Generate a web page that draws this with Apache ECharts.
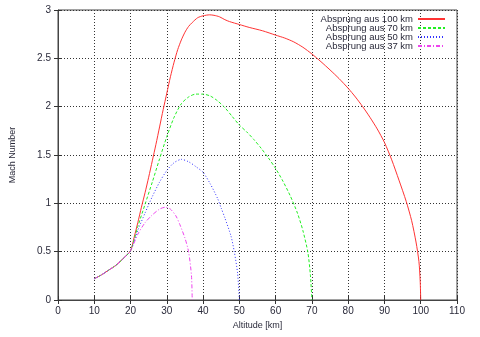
<!DOCTYPE html>
<html>
<head>
<meta charset="utf-8">
<script src="https://cdn.jsdelivr.net/npm/echarts@6/dist/echarts.min.js"></script>
<style>
  html, body { margin: 0; padding: 0; background: #fff; }
  #chart { width: 480px; height: 337px; }
</style>
</head>
<body>
<div id="chart"></div>
<script>
// Mach number over altitude for jumps started from different heights.
const seriesNames = ['Absprung aus 100 km', 'Absprung aus 70 km', 'Absprung aus 50 km', 'Absprung aus 37 km'];

// [altitude km, Mach]
const jump100 = [
  [10, 0.22], [12, 0.26], [14, 0.31], [16, 0.36], [18, 0.43], [20, 0.51],
  [21, 0.65], [22, 0.8], [23, 0.96], [24, 1.11], [25, 1.27], [26, 1.44],
  [27, 1.61], [28, 1.79], [29, 1.97], [30, 2.14], [31, 2.31], [32, 2.46],
  [33, 2.59], [34, 2.69], [35, 2.77], [36, 2.83], [37, 2.87], [38.5, 2.92],
  [40, 2.94], [41.8, 2.95], [43, 2.945], [44.5, 2.93], [46, 2.9], [47.3, 2.88],
  [50, 2.85], [52.7, 2.82], [56.4, 2.785], [60, 2.74], [62.5, 2.71], [65, 2.67],
  [67.5, 2.615], [70, 2.545], [72.5, 2.465], [75, 2.38], [77.5, 2.29], [80, 2.19],
  [82, 2.1], [84, 2.0], [86, 1.89], [88, 1.77], [90, 1.63], [92, 1.45],
  [94, 1.24], [96, 1.02], [97.5, 0.82], [98.7, 0.6], [99.5, 0.4], [99.85, 0.2],
  [100, 0]
];
const jump70 = [
  [10, 0.22], [12, 0.26], [14, 0.31], [16, 0.36], [18, 0.43], [20, 0.51],
  [22, 0.76], [24, 0.99], [26, 1.22], [28, 1.46], [30, 1.69], [32, 1.89],
  [34, 2.03], [36, 2.1], [38, 2.13], [40, 2.13], [42, 2.11], [44, 2.06],
  [46, 1.99], [48, 1.9], [50, 1.81], [52, 1.74], [54, 1.66], [56, 1.57],
  [58, 1.47], [60, 1.36], [62, 1.23], [64, 1.08], [66, 0.9], [67.5, 0.72],
  [68.9, 0.49], [69.6, 0.25], [70, 0]
];
const jump50 = [
  [10, 0.22], [12, 0.26], [14, 0.31], [16, 0.36], [18, 0.43], [20, 0.51],
  [22, 0.72], [24, 0.9], [26, 1.07], [28, 1.22], [30, 1.34], [32, 1.42],
  [34, 1.455], [36, 1.43], [38, 1.38], [40, 1.32], [42, 1.2], [44, 1.05],
  [45, 0.95], [46, 0.85], [47.7, 0.66], [48.6, 0.5], [49.5, 0.28], [50, 0]
];
const jump37 = [
  [10, 0.22], [12, 0.26], [14, 0.31], [16, 0.36], [18, 0.43], [20, 0.51],
  [22, 0.68], [24, 0.8], [26, 0.88], [28, 0.94], [29.6, 0.96], [31, 0.94],
  [32.5, 0.87], [33.6, 0.78], [35, 0.64], [36, 0.5], [36.8, 0.25], [37, 0]
];

const xTicks = { min: 0, max: 110, step: 10 };
const yTicks = { min: 0, max: 3, step: 0.5 };

const FONT = 'Liberation Sans, Arial, sans-serif';
const TEXT = '#2a2a3a';

const lineSeries = (name, data, color, type) => ({
  name, type: 'line', data, symbol: 'none', showSymbol: false,
  smooth: 0.25,
  lineStyle: { color, width: 1, type },
  itemStyle: { color },
  z: 5
});

const gridLine = { show: true, lineStyle: { color: '#333', width: 1, type: [1, 2] } };
const tick = { show: true, inside: true, length: 4, lineStyle: { color: '#333' } };

const chart = echarts.init(document.getElementById('chart'), null, { renderer: 'canvas' });
chart.setOption({
  animation: false,
  backgroundColor: '#fff',
  textStyle: { fontFamily: FONT },
  grid: { left: 53, right: 23, top: 10, bottom: 37, show: true, borderColor: '#444', borderWidth: 1 },
  legend: {
    data: seriesNames,
    orient: 'vertical',
    right: 34, top: 14,
    align: 'right',
    itemWidth: 27, itemHeight: 8, itemGap: -1,
    itemStyle: { opacity: 0 },
    textStyle: { fontFamily: FONT, fontSize: 9.5, color: TEXT, lineHeight: 8 },
    padding: 0,
    selectedMode: false
  },
  xAxis: [{
    type: 'value', min: xTicks.min, max: xTicks.max, interval: xTicks.step,
    name: 'Altitude [km]', nameLocation: 'middle', nameGap: 21,
    nameTextStyle: { fontFamily: FONT, fontSize: 9, color: TEXT },
    axisLine: { show: true, lineStyle: { color: '#444' } },
    axisTick: tick,
    axisLabel: { fontFamily: FONT, fontSize: 10, color: TEXT, margin: 6 },
    splitLine: gridLine
  }, {
    type: 'value', position: 'top', min: xTicks.min, max: xTicks.max, interval: xTicks.step,
    axisLine: { show: false }, axisTick: tick, axisLabel: { show: false }, splitLine: { show: false }
  }],
  yAxis: [{
    type: 'value', min: yTicks.min, max: yTicks.max, interval: yTicks.step,
    name: 'Mach Number', nameLocation: 'middle', nameGap: 41,
    nameTextStyle: { fontFamily: FONT, fontSize: 9, color: TEXT },
    axisLine: { show: true, lineStyle: { color: '#444' } },
    axisTick: tick,
    axisLabel: { fontFamily: FONT, fontSize: 10, color: TEXT, margin: 7 },
    splitLine: gridLine
  }, {
    type: 'value', position: 'right', min: yTicks.min, max: yTicks.max, interval: yTicks.step,
    axisLine: { show: false }, axisTick: tick, axisLabel: { show: false }, splitLine: { show: false }
  }],
  series: [
    lineSeries(seriesNames[0], jump100, '#ff3333', 'solid'),
    lineSeries(seriesNames[1], jump70, '#22ee22', [3, 2]),
    lineSeries(seriesNames[2], jump50, '#3333ff', [1, 2]),
    lineSeries(seriesNames[3], jump37, '#ee44ee', [4, 2, 1, 2])
  ]
});
</script>
</body>
</html>
